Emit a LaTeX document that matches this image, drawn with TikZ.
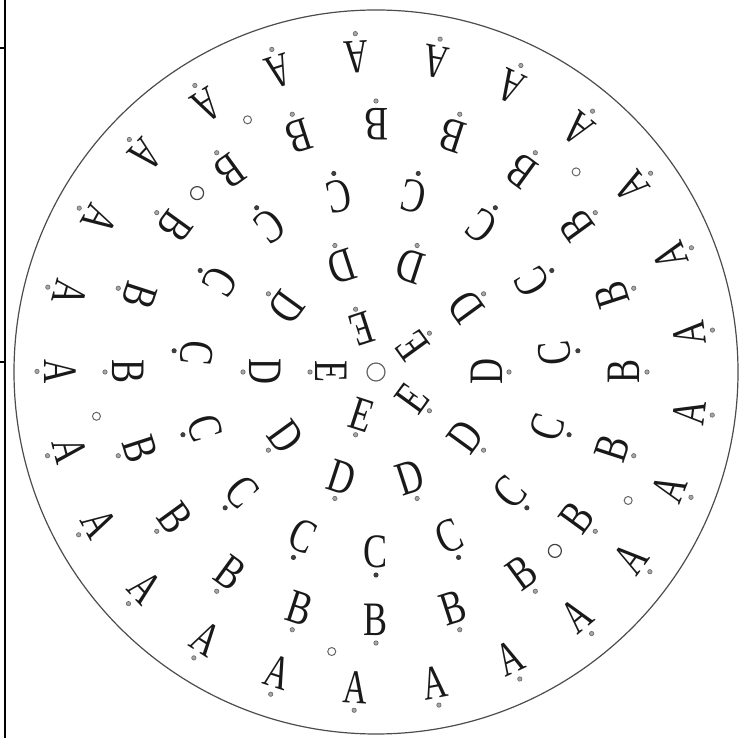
\documentclass[tikz,border=0pt]{standalone}
\usepackage{fontspec}
\setmainfont{Liberation Serif}
\usetikzlibrary{calc}
\tikzset{
  letter/.style={inner sep=0pt, font=\fontsize{24}{24}\selectfont, text=black!90},
  dotmark/.style={circle, inner sep=0pt, minimum size=2.2pt, draw=black!60, fill=black!35, line width=0.3pt},
  smallring/.style={circle, inner sep=0pt, minimum size=4pt, draw=black!60, line width=0.5pt},
  bigring/.style={circle, inner sep=0pt, minimum size=6.5pt, draw=black!75, line width=0.6pt},
  rim/.style={draw=black!70, line width=0.6pt},
  border/.style={draw=black, line width=1pt}
}
\begin{document}
\begin{tikzpicture}[x=0.5pt,y=0.5pt]
\useasboundingbox (0,0) rectangle (749,738);
\coordinate (c) at (376,366);
% outer rim
\draw[rim] (c) circle (362);
% left table border
\coordinate (bt) at (5,738);
\coordinate (bb) at (5,0);
\coordinate (t1) at (0,690);
\coordinate (t1e) at (5,690);
\coordinate (t2) at (0,376);
\coordinate (t2e) at (5,376);
\draw[border] (bt) -- (bb);
\draw[border] (t1) -- (t1e);
\draw[border] (t2) -- (t2e);
% centre ring
\node[circle, inner sep=0pt, minimum size=9pt, draw=black!60, line width=0.6pt] (ctr) at (c) {};
% ring A
\foreach \k in {0,...,24}{
  \pgfmathsetmacro\t{93.5-14.4*\k}
  \pgfmathsetmacro\r{\t+90}
  \node[letter, rotate=\r] (a\k) at ($(c)+(\t:316)$) {\scalebox{0.7}[1]{A}};
  \node[dotmark] (ad\k) at ($(c)+(\t:339)$) {};
}
% ring B
\foreach \k in {0,...,19}{
  \pgfmathsetmacro\t{90-18*\k}
  \pgfmathsetmacro\r{\t+90}
  \node[letter, rotate=\r] (b\k) at ($(c)+(\t:248)$) {\scalebox{0.75}[1]{B}};
  \node[dotmark] (bd\k) at ($(c)+(\t:271)$) {};
}
% ring C
\foreach \k in {0,...,14}{
  \pgfmathsetmacro\t{78-24*\k}
  \pgfmathsetmacro\r{\t+90}
  \node[letter, rotate=\r] (cc\k) at ($(c)+(\t:180)$) {\scalebox{0.75}[1]{C}};
  \node[dotmark, fill=black!75, draw=black!80] (cd\k) at ($(c)+(\t:203)$) {};
}
% ring D
\foreach \k in {0,...,9}{
  \pgfmathsetmacro\t{72-36*\k}
  \pgfmathsetmacro\r{\t+90}
  \node[letter, rotate=\r] (d\k) at ($(c)+(\t:111)$) {\scalebox{0.75}[1]{D}};
  \node[dotmark] (dd\k) at ($(c)+(\t:133)$) {};
}
% ring E
\foreach \k in {0,...,4}{
  \pgfmathsetmacro\t{180-72*\k}
  \pgfmathsetmacro\r{\t+90}
  \node[letter, rotate=\r] (e\k) at ($(c)+(\t:45)$) {\scalebox{0.75}[1]{E}};
  \node[dotmark] (ed\k) at ($(c)+(\t:66)$) {};
}
% loose small rings
\foreach \t [count=\i] in {45,117,189,261,333}{
  \node[smallring] (s\i) at ($(c)+(\t:283)$) {};
}
\node[bigring] (g1) at ($(c)+(135:253)$) {};
\node[bigring] (g2) at ($(c)+(-45:253)$) {};
\end{tikzpicture}
\end{document}
